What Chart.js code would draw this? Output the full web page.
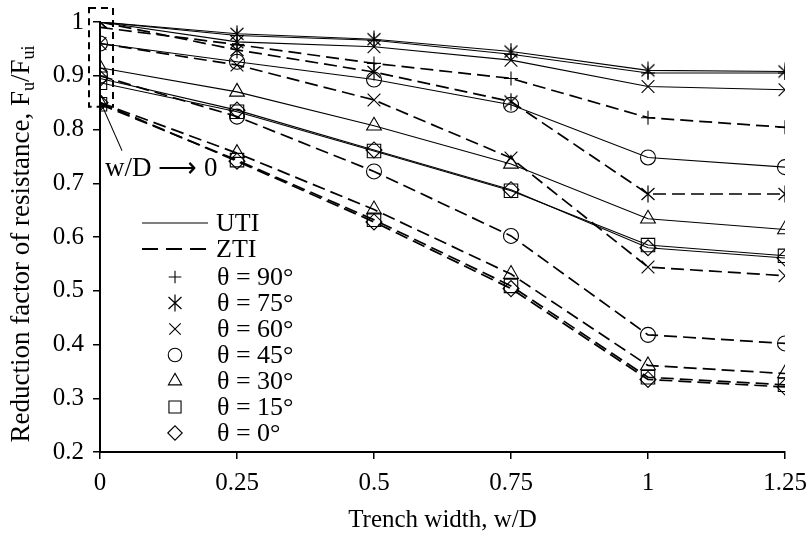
<!DOCTYPE html>
<html>
<head>
<meta charset="utf-8">
<script src="https://cdn.jsdelivr.net/npm/chart.js@4"></script>
<style>
  html, body { margin: 0; padding: 0; background: #fff; }
  #wrap { width: 808px; height: 537px; position: relative; }
</style>
</head>
<body>
<div id="wrap"><canvas id="chart"></canvas></div>
<script>
// Trench width values on the x axis
const widths = [0, 0.25, 0.5, 0.75, 1, 1.25];
const xTickLabels = ['0', '0.25', '0.5', '0.75', '1', '1.25'];
const yTickLabels = ['0.2', '0.3', '0.4', '0.5', '0.6', '0.7', '0.8', '0.9', '1'];

// Angles shown in the legend
const angles = ['90', '75', '60', '45', '30', '15', '0'];

// UTI series (solid lines)
const uti90 = [1.0, 0.975, 0.966, 0.940, 0.905, 0.905];
const uti75 = [1.0, 0.978, 0.968, 0.945, 0.910, 0.908];
const uti60 = [1.0, 0.963, 0.954, 0.929, 0.880, 0.874];
const uti45 = [0.960, 0.926, 0.893, 0.846, 0.748, 0.730];
const uti30 = [0.915, 0.870, 0.807, 0.736, 0.634, 0.614];
const uti15 = [0.887, 0.833, 0.760, 0.686, 0.585, 0.565];
const uti0 = [0.895, 0.836, 0.762, 0.688, 0.580, 0.561];

// ZTI series (dashed lines)
const zti90 = [0.990, 0.958, 0.923, 0.895, 0.822, 0.804];
const zti75 = [1.0, 0.948, 0.907, 0.852, 0.680, 0.680];
const zti60 = [0.960, 0.920, 0.855, 0.747, 0.544, 0.528];
const zti45 = [0.900, 0.824, 0.722, 0.602, 0.418, 0.402];
const zti30 = [0.850, 0.756, 0.651, 0.531, 0.361, 0.346];
const zti15 = [0.847, 0.743, 0.632, 0.509, 0.339, 0.325];
const zti0 = [0.850, 0.741, 0.628, 0.504, 0.335, 0.321];

const utiSeries = [uti90, uti75, uti60, uti45, uti30, uti15, uti0];
const ztiSeries = [zti90, zti75, zti60, zti45, zti30, zti15, zti0];

// six-armed asterisk marker (X with a vertical bar)
function makeAsterisk() {
    const c = document.createElement('canvas');
    c.width = 16; c.height = 18;
    const g = c.getContext('2d');
    g.strokeStyle = '#000';
    g.lineWidth = 1.2;
    g.beginPath();
    g.moveTo(1.5, 3); g.lineTo(14.5, 15);
    g.moveTo(14.5, 3); g.lineTo(1.5, 15);
    g.moveTo(8, 0.5); g.lineTo(8, 17.5);
    g.stroke();
    return c;
}
const asterisk = makeAsterisk();

// Marker look for each angle
const markerStyles = ['cross', asterisk, 'crossRot', 'circle', 'triangle', 'rect', 'rectRot'];
const markerSizes = [7, 8, 9, 7.5, 8.5, 9.5, 8];

const FONT = "'Liberation Serif', 'Times New Roman', serif";
const DASH = [13, 6];

function makeDataset(label, values, i, dashed) {
    return {
        label: label,
        data: values.map((v, k) => ({ x: widths[k], y: v })),
        borderColor: '#000',
        borderWidth: dashed ? 1.7 : 1.1,
        borderDash: dashed ? DASH : [],
        pointStyle: markerStyles[i],
        pointRadius: markerSizes[i],
        pointBorderWidth: 1.1,
        pointBorderColor: '#000',
        pointBackgroundColor: 'rgba(0,0,0,0)',
        showLine: true,
        tension: 0
    };
}

const datasets = [];
angles.forEach((a, i) => datasets.push(makeDataset('UTI ' + a, utiSeries[i], i, false)));
angles.forEach((a, i) => datasets.push(makeDataset('ZTI ' + a, ztiSeries[i], i, true)));

// Y axis title with subscripts
const yTitlePlugin = {
    id: 'yTitle',
    afterDraw(chart) {
        const ctx = chart.ctx;
        const area = chart.chartArea;
        const parts = [
            { t: 'Reduction factor of resistance, F', sub: false },
            { t: 'u', sub: true },
            { t: '/F', sub: false },
            { t: 'ui', sub: true }
        ];
        const big = '27px ' + FONT, small = '18px ' + FONT;
        ctx.save();
        let total = 0;
        parts.forEach(p => { ctx.font = p.sub ? small : big; p.w = ctx.measureText(p.t).width; total += p.w; });
        ctx.translate(22, (area.top + area.bottom) / 2 + 7);
        ctx.rotate(-Math.PI / 2);
        ctx.fillStyle = '#000';
        ctx.textBaseline = 'middle';
        let x = -total / 2;
        parts.forEach(p => {
            ctx.font = p.sub ? small : big;
            ctx.fillText(p.t, x, p.sub ? 7 : 0);
            x += p.w;
        });
        ctx.restore();
    }
};

// Legend inside the plot and the w/D -> 0 note
const notesPlugin = {
    id: 'notes',
    afterDraw(chart) {
        const ctx = chart.ctx;
        const xs = chart.scales.x, ys = chart.scales.y;
        ctx.save();
        ctx.strokeStyle = '#000';
        ctx.fillStyle = '#000';
        ctx.font = '26px ' + FONT;
        ctx.textBaseline = 'middle';
        ctx.textAlign = 'left';

        // line keys
        ctx.lineWidth = 1.1;
        ctx.beginPath(); ctx.moveTo(142, 223); ctx.lineTo(208, 223); ctx.stroke();
        ctx.fillText('UTI', 216, 224);
        ctx.lineWidth = 2.2;
        ctx.setLineDash([16, 8]);
        ctx.beginPath(); ctx.moveTo(142, 249); ctx.lineTo(208, 249); ctx.stroke();
        ctx.setLineDash([]);
        ctx.fillText('ZTI', 216, 250);

        // marker keys
        angles.forEach((a, i) => {
            const y = 277 + i * 26;
            ctx.lineWidth = 1.1;
            ctx.fillStyle = 'rgba(0,0,0,0)';
            Chart.helpers.drawPoint(ctx, { pointStyle: markerStyles[i], radius: markerSizes[i] * 0.9, rotation: 0, borderWidth: 1.1 }, 175, y);
            ctx.fillStyle = '#000';
            ctx.fillText('\u03b8 = ' + a + '\u00b0', 217, y + 1);
        });

        // dashed box round the w/D -> 0 points
        const x0 = xs.getPixelForValue(0);
        const top = ys.getPixelForValue(1) - 14;
        const bottom = ys.getPixelForValue(0.85) + 4;
        ctx.lineWidth = 2;
        ctx.setLineDash([7, 5]);
        ctx.strokeRect(x0 - 11, top, 24, bottom - top);
        ctx.setLineDash([]);
        ctx.lineWidth = 1.1;
        ctx.beginPath(); ctx.moveTo(x0 + 3, bottom + 1); ctx.lineTo(x0 + 22, bottom + 44); ctx.stroke();
        ctx.font = '27px ' + FONT;
        ctx.fillText('w/D \u27f6 0', x0 + 5, bottom + 62);
        ctx.restore();
    }
};

const ctx = document.getElementById('chart').getContext('2d');
new Chart(ctx, {
    type: 'scatter',
    data: { datasets: datasets },
    options: {
        responsive: true,
        maintainAspectRatio: false,
        animation: false,
        devicePixelRatio: 1,
        layout: { padding: { top: 22, right: 23, left: 0, bottom: 0 } },
        plugins: { legend: { display: false }, tooltip: { enabled: false } },
        scales: {
            x: {
                type: 'linear',
                min: 0,
                max: 1.25,
                afterBuildTicks: scale => { scale.ticks = widths.map(v => ({ value: v })); },
                afterFit: scale => { scale.height = 85; scale.paddingLeft = 0; scale.paddingRight = 0; },
                border: { color: '#000', width: 2 },
                grid: { display: true, drawOnChartArea: false, drawTicks: true, tickLength: 7, color: '#000', lineWidth: 1.5 },
                ticks: {
                    color: '#000',
                    font: { family: FONT, size: 25 },
                    padding: 9,
                    maxRotation: 0,
                    callback: (v, i) => xTickLabels[i]
                },
                title: {
                    display: true,
                    text: 'Trench width, w/D',
                    color: '#000',
                    font: { family: FONT, size: 25 },
                    padding: { top: 0, bottom: 2 }
                }
            },
            y: {
                type: 'linear',
                min: 0.2,
                max: 1,
                afterBuildTicks: scale => { scale.ticks = yTickLabels.map(t => ({ value: parseFloat(t) })); },
                afterFit: scale => { scale.width = 100; scale.paddingTop = 0; scale.paddingBottom = 0; },
                border: { color: '#000', width: 2 },
                grid: { display: true, drawOnChartArea: false, drawTicks: true, tickLength: 7, color: '#000', lineWidth: 1.5 },
                ticks: {
                    color: '#000',
                    font: { family: FONT, size: 25 },
                    padding: 9,
                    callback: (v, i) => yTickLabels[i]
                }
            }
        }
    },
    plugins: [yTitlePlugin, notesPlugin]
});
</script>
</body>
</html>
